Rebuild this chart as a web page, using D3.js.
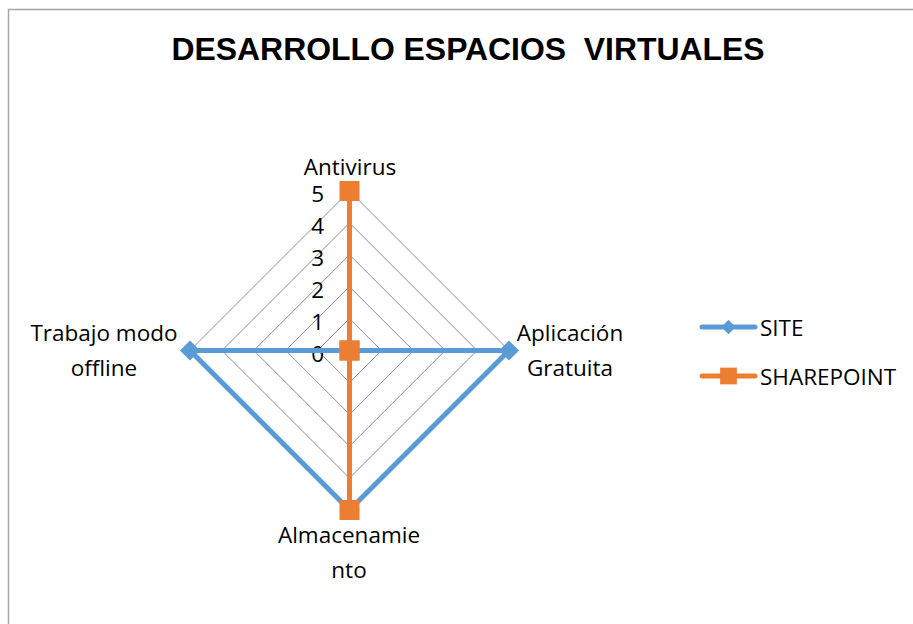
<!DOCTYPE html>
<html>
<head>
    <meta charset="utf-8">
    <title>Desarrollo espacios virtuales</title>
    <script src="https://d3js.org/d3.v7.min.js"></script>
    <style>
        body { margin: 0; background: #fff; }
        svg text { font-family: "Open Sans", "Noto Sans", sans-serif; fill: #000; }
    </style>
</head>
<body>
    <svg id="chart" width="913" height="624"></svg>

    <script>
        // chart values
        var categories = ["Antivirus", "Aplicación Gratuita", "Almacenamiento", "Trabajo modo offline"]
        var categoryLines = [["Antivirus"], ["Aplicación", "Gratuita"], ["Almacenamie", "nto"], ["Trabajo modo", "offline"]]
        var siteValues = [0, 5, 5, 5]
        var sharepointValues = [5, 0, 5, 0]
        var seriesNames = ["SITE", "SHAREPOINT"]
        var tickValues = [0, 1, 2, 3, 4, 5]

        var blue = "#5B9BD5", orange = "#ED7D31";

        svg = d3.select("#chart");
        wid = 913; hei = 624;

        // outer frame
        svg.append("rect")
            .attr("x", 8.5).attr("y", 9.5)
            .attr("width", wid).attr("height", hei)
            .attr("fill", "none")
            .attr("stroke", "#a6a6a6")
            .attr("stroke-width", 1.5);

        svg.append("text")
            .attr("x", 468).attr("y", 60)
            .attr("text-anchor", "middle")
            .style("font-family", "'Liberation Sans', Arial, sans-serif")
            .style("font-weight", "bold")
            .style("font-size", "32px")
            .style("white-space", "pre")
            .attr("textLength", 593)
            .attr("lengthAdjust", "spacingAndGlyphs")
            .text("DESARROLLO ESPACIOS  VIRTUALES");

        cx = 349.5; cy = 350.5;
        r = d3.scaleLinear([0, 5], [0, 159.5]);
        ang = d3.scalePoint(d3.range(categories.length + 1), [0, 2 * Math.PI]);
        function pt(i, v) {
            a = ang(i % categories.length) - Math.PI / 2;
            return [cx + r(v) * Math.cos(a), cy + r(v) * Math.sin(a)];
        }

        g = svg.append("g");

        // grid diamonds
        g.selectAll(".ring")
            .data(tickValues.slice(1)).enter()
            .append("path")
            .attr("fill", "none")
            .attr("stroke", "#7f7f7f")
            .attr("stroke-width", 0.9)
            .attr("d", t => d3.line()(d3.range(categories.length).map(i => pt(i, t))) + "Z");

        // spokes
        g.selectAll(".spoke")
            .data(categories).enter()
            .append("line")
            .attr("stroke", "#7f7f7f")
            .attr("stroke-width", 0.9)
            .attr("x1", cx).attr("y1", cy)
            .attr("x2", (d, i) => pt(i, 5)[0])
            .attr("y2", (d, i) => pt(i, 5)[1]);

        // tick labels
        g.selectAll(".tick")
            .data(tickValues).enter()
            .append("text")
            .attr("x", 324)
            .attr("y", t => cy - r(t) + 11)
            .attr("text-anchor", "end")
            .style("font-size", "22.5px")
            .text(t => t);

        // category labels
        labelPos = [[350, 175], [570, 341], [349, 543], [104, 341]];
        categoryLines.forEach(function (lines, i) {
            txt = g.append("text")
                .attr("text-anchor", "middle")
                .style("font-size", "22.5px");
            txt.selectAll("tspan")
                .data(lines).enter()
                .append("tspan")
                .attr("x", labelPos[i][0])
                .attr("y", (d, j) => labelPos[i][1] + j * 35)
                .text(d => d);
        });

        var diamond = d3.symbol().type(d3.symbolDiamond2).size(260);
        var square = d3.symbol().type(d3.symbolSquare).size(400);

        function drawSeries(vals, color, sym) {
            pts = vals.map((v, i) => pt(i, v));
            g.append("path")
                .attr("d", d3.line()(pts) + "Z")
                .attr("fill", "none")
                .attr("stroke", color)
                .attr("stroke-width", 5)
                .attr("stroke-linejoin", "round");
            g.selectAll(null)
                .data(pts).enter()
                .append("path")
                .attr("d", sym)
                .attr("fill", color)
                .attr("transform", d => "translate(" + d[0] + "," + d[1] + ")");
        }
        drawSeries(siteValues, blue, diamond);
        drawSeries(sharepointValues, orange, square);

        // legend
        leg = svg.append("g");
        legColors = [blue, orange];
        legSyms = [d3.symbol().type(d3.symbolDiamond2).size(130), d3.symbol().type(d3.symbolSquare).size(280)];
        seriesNames.forEach(function (name, i) {
            ly = 327 + i * 49;
            leg.append("line")
                .attr("x1", 702).attr("x2", 755)
                .attr("y1", ly).attr("y2", ly)
                .attr("stroke", legColors[i])
                .attr("stroke-width", 5)
                .attr("stroke-linecap", "round");
            leg.append("path")
                .attr("d", legSyms[i])
                .attr("fill", legColors[i])
                .attr("transform", "translate(728.5," + ly + ")");
            leg.append("text")
                .attr("x", 760).attr("y", ly + 9)
                .style("font-size", "22.5px")
                .text(name);
        });
    </script>
</body>
</html>
